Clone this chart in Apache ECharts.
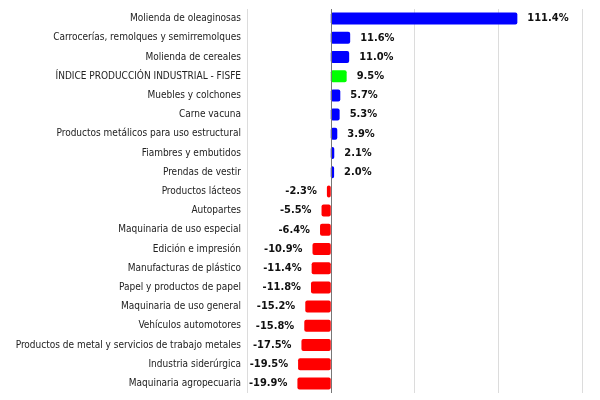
<!DOCTYPE html>
<html>
<head>
<meta charset="utf-8">
<script src="https://cdn.jsdelivr.net/npm/echarts@6/dist/echarts.min.js"></script>
<style>html,body{margin:0;padding:0;background:#fff}#c{width:600px;height:400px}</style>
</head>
<body>
<div id="c"></div>
<script>
const categories = [
  "Molienda de oleaginosas",
  "Carrocerías, remolques y semirremolques",
  "Molienda de cereales",
  "ÍNDICE PRODUCCIÓN INDUSTRIAL - FISFE",
  "Muebles y colchones",
  "Carne vacuna",
  "Productos metálicos para uso estructural",
  "Fiambres y embutidos",
  "Prendas de vestir",
  "Productos lácteos",
  "Autopartes",
  "Maquinaria de uso especial",
  "Edición e impresión",
  "Manufacturas de plástico",
  "Papel y productos de papel",
  "Maquinaria de uso general",
  "Vehículos automotores",
  "Productos de metal y servicios de trabajo metales",
  "Industria siderúrgica",
  "Maquinaria agropecuaria"
];
const values = [111.4, 11.6, 11.0, 9.5, 5.7, 5.3, 3.9, 2.1, 2.0, -2.3, -5.5, -6.4, -10.9, -11.4, -11.8, -15.2, -15.8, -17.5, -19.5, -19.9];
const highlight = "ÍNDICE PRODUCCIÓN INDUSTRIAL - FISFE";
const xTicks = [-50, 0, 50, 100, 150];

const FONT = '"DejaVu Sans Condensed", "Liberation Sans Narrow", sans-serif';
const chart = echarts.init(document.getElementById('c'));
const data = values.map((v, i) => ({
  value: v,
  itemStyle: { color: categories[i] === highlight ? '#00ff00' : (v >= 0 ? '#0000ff' : '#ff0000') },
  label: { position: v >= 0 ? 'right' : 'left' }
}));
chart.setOption({
  animation: false,
  grid: { left: 247, right: 18, top: 9, bottom: 7, containLabel: false, outerBoundsMode: 'none' },
  xAxis: {
    type: 'value', min: xTicks[0], max: xTicks[xTicks.length - 1], interval: 50,
    axisLabel: { show: false }, axisLine: { show: false }, axisTick: { show: false },
    splitLine: { show: true, lineStyle: { color: '#dcdcdc', width: 1 } }
  },
  yAxis: {
    type: 'category', data: categories, inverse: true,
    axisLine: { show: false, onZero: false }, axisTick: { show: false },
    axisLabel: { margin: 6, color: '#222', fontFamily: FONT, fontSize: 10 }
  },
  series: [{
    type: 'bar', data: data, barWidth: 12,
    itemStyle: { borderRadius: 2 },
    label: {
      show: true, distance: 10, color: '#111', fontWeight: 'bold', fontSize: 11,
      fontFamily: FONT,
      formatter: p => p.value.toFixed(1) + '%'
    },
    markLine: {
      silent: true, symbol: 'none', label: { show: false },
      lineStyle: { color: '#777', width: 1, type: 'solid' },
      data: [{ xAxis: 0 }]
    }
  }]
});
</script>
</body>
</html>
